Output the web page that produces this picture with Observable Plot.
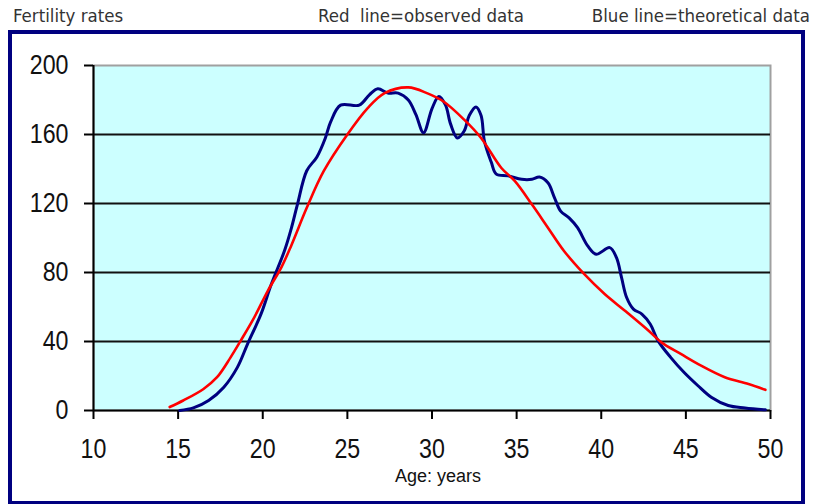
<!DOCTYPE html>
<html>
<head>
<meta charset="utf-8">
<script src="https://cdn.jsdelivr.net/npm/d3@7"></script>
<script src="https://cdn.jsdelivr.net/npm/@observablehq/plot@0.6"></script>
<style>
  html, body { margin: 0; padding: 0; background: #fff; overflow: hidden; width: 817px; height: 504px; }
  .t { position: absolute; top: 7px; font-family: "DejaVu Sans Condensed", "DejaVu Sans", sans-serif; font-stretch: condensed; font-size: 18.5px; line-height: 1; color: #333; white-space: pre; }
  #frame { position: absolute; left: 8px; top: 30px; width: 789px; height: 467px; border: 4px solid #000080; box-shadow: inset 0 0 0 1px #b8b8e0; background: #fff; }
  #frame svg { display: block; }
</style>
</head>
<body>
<div class="t" id="t1"></div>
<div class="t" id="t2"></div>
<div class="t" id="t3"></div>
<div id="frame"></div>
<script>
const titleLeft = "Fertility rates";
const titleRed = "Red  line=observed data";
const titleBlue = "Blue line=theoretical data";
const xLabel = "Age: years";

const xTicks = [10, 15, 20, 25, 30, 35, 40, 45, 50];
const yTicks = [0, 40, 80, 120, 160, 200];
const gridValues = [40, 80, 120, 160];

// Blue line (jagged)
const blueAge = [15.1, 15.9, 16.8, 17.7, 18.5, 19.1, 19.9, 20.5, 21.3, 21.7, 22.05, 22.6, 23.2, 23.7, 24.0, 24.6, 25.7, 26.3, 26.8, 27.4, 28.0, 28.6, 29.05, 29.5, 30.0, 30.4, 30.8, 31.1, 31.5, 31.9, 32.2, 32.6, 32.9, 33.1, 33.5, 33.8, 34.5, 35.3, 35.9, 36.35, 36.85, 37.24, 37.6, 38.1, 38.6, 39.2, 39.7, 40.5, 40.9, 41.2, 41.5, 41.9, 42.4, 42.9, 43.35, 44.1, 44.9, 45.7, 46.5, 47.5, 48.5, 49.7];
const blueRate = [0, 1.5, 5.8, 13.5, 25, 38.5, 56, 73, 93, 106, 119.5, 139, 147, 158, 167, 177, 177, 183, 186.5, 184, 184, 180, 171.5, 161, 175, 182, 177, 166, 158, 162, 171, 176, 171, 156, 144, 137, 136, 134, 134, 135.3, 132, 123.3, 115.6, 111.7, 106, 95.4, 90.6, 94.4, 88.6, 77, 65.5, 58.8, 55.9, 50, 40.5, 30.8, 22, 14.5, 7.7, 2.9, 1.5, 0.4];

// Red line (smooth)
const redAge = [14.5, 15.3, 16.5, 17.3, 18.1, 18.7, 19.5, 20.3, 21.1, 21.7, 22.6, 23.6, 25.0, 26.2, 27.2, 28.6, 29.7, 30.7, 31.9, 32.9, 34.1, 34.9, 35.9, 36.85, 37.8, 39.0, 40.2, 41.4, 42.8, 43.55, 44.7, 45.9, 47.3, 48.7, 49.7];
const redRate = [2, 5.8, 12.5, 19.3, 30.8, 40.5, 54, 69.4, 83, 96, 117.5, 138.7, 160, 175.3, 184, 187.3, 184, 179, 168.6, 158, 140.6, 133, 119.5, 106, 92.5, 79, 67.5, 57.8, 46.2, 39.5, 32.8, 26, 19.3, 15.4, 12];

const blue = blueAge.map((a, i) => ({age: a, rate: blueRate[i]}));
const red = redAge.map((a, i) => ({age: a, rate: redRate[i]}));

const t1 = document.getElementById("t1"); t1.textContent = titleLeft; t1.style.left = "13px";
const t2 = document.getElementById("t2"); t2.textContent = titleRed; t2.style.right = (817 - 524) + "px";
const t3 = document.getElementById("t3"); t3.textContent = titleBlue; t3.style.right = (817 - 810) + "px";

const tickFont = "'Liberation Sans', Arial, sans-serif";

const chart = Plot.plot({
  width: 789,
  height: 467,
  marginLeft: 81,
  marginRight: 31,
  marginTop: 31,
  marginBottom: 91,
  style: { background: "white", fontFamily: tickFont, color: "#111" },
  x: { domain: [10, 50], ticks: xTicks, label: null },
  y: { domain: [0, 200], ticks: yTicks, label: null },
  marks: [
    Plot.frame({ fill: "#ccffff", stroke: "#a0a0a0", strokeWidth: 2 }),
    Plot.ruleY(gridValues, { stroke: "#111", strokeWidth: 2 }),
    Plot.axisY({ ticks: yTicks, tickSize: 9, tickPadding: 16, strokeWidth: 2, stroke: "#000", fontSize: 27, fill: "#111", label: null }),
    Plot.axisX({ ticks: xTicks, tickSize: 9, tickPadding: 19, strokeWidth: 2, stroke: "#000", fontSize: 27, fill: "#111", label: null }),
    Plot.ruleX([10], { stroke: "#000", strokeWidth: 2 }),
    Plot.ruleY([0], { stroke: "#000", strokeWidth: 2 }),
    Plot.line(blue, { x: "age", y: "rate", stroke: "#000080", strokeWidth: 3, curve: "catmull-rom" }),
    Plot.line(red, { x: "age", y: "rate", stroke: "#ff0000", strokeWidth: 2.6, curve: "catmull-rom" }),
    Plot.text([xLabel], { frameAnchor: "bottom", dx: 6, dy: 71, fontSize: 18, fill: "#111", fontFamily: "'Liberation Sans', Arial, sans-serif" })
  ]
});
// condense the tick label glyphs horizontally (narrow digits as in the reference)
d3.select(chart).selectAll("g[aria-label='y-axis tick label'] text, g[aria-label='x-axis tick label'] text")
  .attr("transform", function () {
    const t = this.getAttribute("transform") || "";
    return t + " scale(0.86,1)";
  });
document.getElementById("frame").appendChild(chart);
</script>
</body>
</html>
